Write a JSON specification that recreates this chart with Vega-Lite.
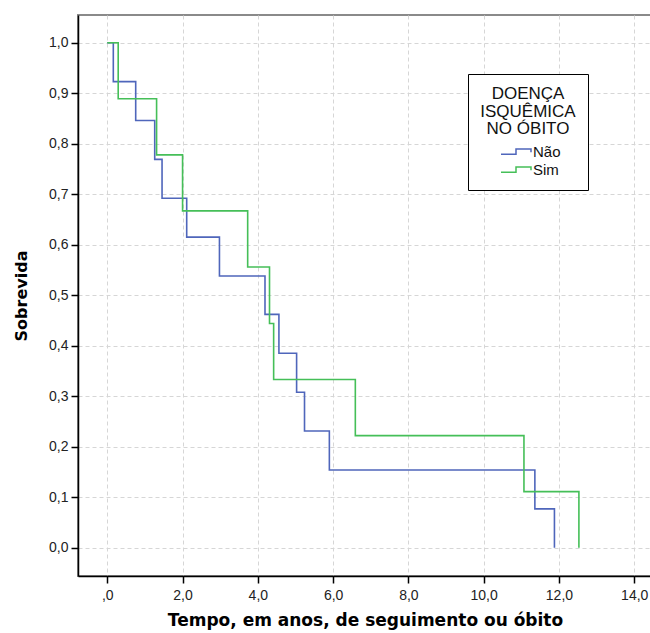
{
  "$schema": "https://vega.github.io/schema/vega-lite/v6.json",
  "width": 574,
  "height": 561,
  "autosize": "none",
  "padding": {"left": 78, "top": 15, "right": 0, "bottom": 57},
  "background": "white",
  "config": {
    "view": {"stroke": "#8a8a8a", "strokeWidth": 2},
    "axis": {
      "domainColor": "#000000",
      "domainWidth": 1.5,
      "tickColor": "#000000",
      "tickWidth": 1.5,
      "tickSize": 7,
      "gridColor": "#d6d6d6",
      "gridDash": [4, 3],
      "gridWidth": 1,
      "labelFont": "Liberation Sans",
      "labelFontSize": 14,
      "labelColor": "#222222",
      "titleFont": "DejaVu Sans",
      "titleFontWeight": "bold",
      "titleColor": "#000000"
    }
  },
  "data": {
    "values": [
      {"grupo": "Não", "t": 0, "s": 1},
      {"grupo": "Não", "t": 0.16, "s": 0.923},
      {"grupo": "Não", "t": 0.755, "s": 0.846},
      {"grupo": "Não", "t": 1.26, "s": 0.769},
      {"grupo": "Não", "t": 1.455, "s": 0.692},
      {"grupo": "Não", "t": 2.11, "s": 0.615},
      {"grupo": "Não", "t": 2.98, "s": 0.538},
      {"grupo": "Não", "t": 4.19, "s": 0.462},
      {"grupo": "Não", "t": 4.56, "s": 0.385},
      {"grupo": "Não", "t": 5.03, "s": 0.308},
      {"grupo": "Não", "t": 5.24, "s": 0.231},
      {"grupo": "Não", "t": 5.9, "s": 0.154},
      {"grupo": "Não", "t": 11.36, "s": 0.077},
      {"grupo": "Não", "t": 11.88, "s": 0},
      {"grupo": "Sim", "t": 0, "s": 1},
      {"grupo": "Sim", "t": 0.29, "s": 0.889},
      {"grupo": "Sim", "t": 1.31, "s": 0.778},
      {"grupo": "Sim", "t": 2.0, "s": 0.667},
      {"grupo": "Sim", "t": 3.73, "s": 0.556},
      {"grupo": "Sim", "t": 4.31, "s": 0.444},
      {"grupo": "Sim", "t": 4.42, "s": 0.333},
      {"grupo": "Sim", "t": 6.59, "s": 0.222},
      {"grupo": "Sim", "t": 11.07, "s": 0.111},
      {"grupo": "Sim", "t": 12.53, "s": 0}
    ]
  },
  "mark": {"type": "line", "interpolate": "step-after", "strokeWidth": 1.6, "clip": true},
  "encoding": {
    "x": {
      "field": "t",
      "type": "quantitative",
      "scale": {"domain": [-0.778, 14.472], "nice": false, "zero": false},
      "axis": {
        "values": [0, 2, 4, 6, 8, 10, 12, 14],
        "labelExpr": "datum.value === 0 ? ',0' : replace(format(datum.value, '.1f'), '.', ',')",
        "labelPadding": 5,
        "title": "Tempo, em anos, de seguimento ou óbito",
        "titleFontSize": 17,
        "titlePadding": 10
      }
    },
    "y": {
      "field": "s",
      "type": "quantitative",
      "scale": {"domain": [-0.056, 1.0549], "nice": false, "zero": false},
      "axis": {
        "values": [0, 0.1, 0.2, 0.3, 0.4, 0.5, 0.6, 0.7, 0.8, 0.9, 1],
        "labelExpr": "replace(format(datum.value, '.1f'), '.', ',')",
        "labelPadding": 3,
        "title": "Sobrevida",
        "titleFontSize": 16,
        "titlePadding": 19
      }
    },
    "color": {
      "field": "grupo",
      "type": "nominal",
      "scale": {"domain": ["Não", "Sim"], "range": ["#4f66bb", "#45bf58"]},
      "legend": {
        "title": ["DOENÇA", "ISQUÊMICA", "NO ÓBITO"],
        "orient": "none",
        "legendX": 390,
        "legendY": 59,
        "strokeColor": "#000000",
        "fillColor": "#ffffff",
        "padding": 12,
        "titleFont": "Liberation Sans",
        "titleFontSize": 17,
        "titleFontWeight": "normal",
        "titleColor": "#111111",
        "titleAlign": "center",
        "titleAnchor": "middle",
        "titleLineHeight": 17.5,
        "titlePadding": 5,
        "labelFont": "Liberation Sans",
        "labelFontSize": 15,
        "labelColor": "#111111",
        "labelOffset": 8.5,
        "symbolType": "M-2,0.35 H0 V-0.35 H2 V0.1",
        "symbolSize": 225,
        "symbolStrokeWidth": 1.5,
        "symbolOffset": 12.5,
        "rowPadding": 1
      }
    },
    "order": {"field": "t", "type": "quantitative"}
  }
}
